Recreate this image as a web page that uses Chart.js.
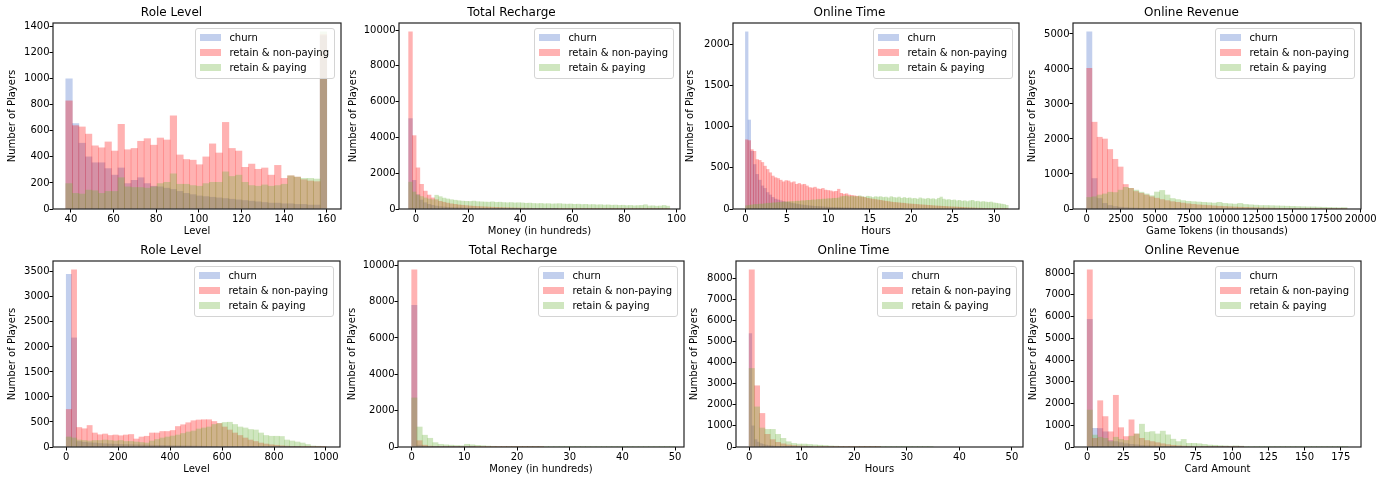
<!DOCTYPE html>
<html>
<head>
<meta charset="utf-8">
<script src="https://cdn.jsdelivr.net/npm/chart.js@4.4.1/dist/chart.umd.min.js"></script>
<style>
  body { margin: 0; background: #fff; width: 1393px; height: 481px; position: relative; overflow: hidden; }
  canvas { position: absolute; }
  .legend { position: absolute; border: 1px solid #d4d4d4; border-radius: 3px; background: rgba(255,255,255,0.8);
            padding: 1px 5px 3px 4px; font: 10px 'DejaVu Sans', sans-serif; color: #000; }
  .legend div { display: flex; align-items: center; height: 15px; white-space: nowrap; }
  .legend .swatch { display: inline-block; width: 21px; height: 7px; margin-right: 8px; }
</style>
</head>
<body>
<script>
// colours of the three player groups
var churnColor = 'rgba(70, 110, 200, 0.33)';
var nonPayColor = 'rgba(255, 0, 0, 0.3)';
var payColor = 'rgba(110, 180, 60, 0.33)';
var seriesNames = ['churn', 'retain & non-paying', 'retain & paying'];

// ---- top row ----
// Role Level (bins of 3.06 from 37.6)
var roleTopChurn = [1000, 655, 505, 400, 355, 355, 310, 260, 315, 195, 220, 240, 195, 175,
    170, 160, 150, 135, 120, 110, 100, 95, 90, 85, 80, 75, 70, 65, 60, 55, 50, 45, 45, 40, 40, 35, 35, 30, 30, 1330];
var roleTopNonPay = [830, 640, 630, 575, 485, 470, 515, 445, 650, 455, 465, 520, 540, 490, 545, 530, 715, 415, 380, 375,
    340, 400, 500, 430, 665, 465, 445, 320, 345, 305, 315, 260, 335, 235, 255, 245, 225, 215, 210, 1340];
var roleTopPay = [195, 120, 115, 145, 140, 120, 135, 135, 240, 170, 165, 165, 160, 170, 195, 205, 270, 190, 190, 180,
    175, 195, 205, 205, 285, 250, 260, 205, 180, 175, 185, 175, 180, 190, 255, 245, 235, 235, 230, 1360];

// Total Recharge (bins of 1.431 from -2.8)
var rechargeTopChurn = [5050, 1600, 800, 500, 350, 260, 200, 160, 130, 110, 95, 85, 75, 65, 58, 52, 46, 42, 38, 34,
    30, 27, 24, 22, 20, 18, 16, 14, 13, 12, 11, 10, 9, 8, 7, 7, 6, 6, 5, 5];
var rechargeTopNonPay = [9900, 4100, 2300, 1380, 1000, 780, 620, 520, 430, 380, 330, 290, 260, 230, 210, 190, 170, 155, 140, 130,
    120, 110, 100, 92, 85, 78, 72, 66, 60, 55, 50, 46, 42, 38, 35, 32, 29, 26, 24, 22,
    20, 18, 16, 15, 14, 13, 12, 11, 10, 9, 8, 8, 7, 7, 6, 6, 5, 5, 4, 4, 4, 3, 3, 3, 2, 2, 2, 2, 1, 1];
var rechargeTopPay = [1500, 950, 780, 700, 620, 560, 520, 770, 690, 610, 560, 520, 490, 460, 440, 430, 420, 440, 410, 400,
    390, 380, 400, 370, 380, 360, 350, 360, 340, 350, 340, 320, 330, 310, 300, 310, 290, 300, 280, 290,
    300, 280, 270, 280, 260, 270, 250, 260, 240, 250, 230, 240, 220, 230, 210, 220, 200, 210, 190, 200,
    180, 190, 200, 240, 170, 180, 160, 170, 200, 160];

// Online Time (bins of 0.317 h from 0)
var timeTopChurn = [2150, 1080, 700, 540, 420, 350, 280, 250, 200, 170, 140, 120, 110, 100, 90, 85, 80, 72, 66, 60,
    55, 50, 46, 42, 38, 35, 32, 30, 28, 26, 24, 22, 20, 19, 18, 17, 16, 15, 14, 13,
    12, 11, 10, 10, 9, 9, 8, 8, 7, 7, 6, 6, 5, 5, 4, 4, 3, 3, 2, 2];
var timeTopNonPay = [840, 830, 720, 700, 600, 590, 565, 520, 480, 440, 400, 380, 370, 350, 330, 345, 340, 320, 330, 300,
    310, 295, 300, 280, 260, 255, 265, 245, 240, 250, 230, 225, 220, 210, 215, 240, 190, 180, 185, 170,
    165, 160, 155, 150, 145, 140, 130, 125, 120, 115, 110, 105, 100, 95, 90, 85, 80, 78, 75, 72,
    70, 65, 62, 60, 58, 55, 52, 50, 48, 45, 43, 40, 38, 36, 34, 32, 30, 28, 26, 25,
    24, 22, 20, 18, 16, 15, 14, 12, 11, 10, 9, 8, 7, 6, 5, 4, 3, 2, 1, 1];
var timeTopPay = [40, 45, 50, 55, 55, 60, 60, 65, 70, 70, 75, 75, 80, 80, 85, 85, 90, 90, 90, 95,
    95, 100, 100, 105, 105, 110, 110, 115, 115, 120, 120, 125, 125, 130, 130, 135, 150, 155, 160, 150,
    155, 150, 150, 160, 150, 145, 155, 150, 140, 150, 145, 150, 140, 145, 135, 150, 140, 135, 145, 130,
    140, 130, 135, 125, 130, 120, 135, 125, 120, 130, 120, 125, 115, 130, 145, 120, 110, 115, 105, 110,
    100, 105, 95, 100, 90, 100, 105, 90, 95, 85, 90, 85, 80, 85, 75, 70, 65, 60, 55, 45];

// Online Revenue, game tokens (bins of 380 from 0)
var revenueTopChurn = [5060, 870, 300, 160, 100, 70, 50, 40, 30, 25, 20, 16, 13, 10, 8, 7, 6, 5, 4, 3];
var revenueTopNonPay = [4020, 2480, 2050, 2000, 1700, 1420, 1200, 700, 590, 500, 450, 400, 350, 310, 270, 240, 210, 190, 170, 150,
    135, 120, 110, 100, 90, 80, 72, 65, 58, 52, 46, 41, 37, 33, 29, 26, 23, 20, 18, 16,
    14, 12, 10, 9, 8, 7, 6, 5, 4, 3];
var revenueTopPay = [330, 350, 400, 430, 480, 470, 540, 620, 590, 540, 480, 430, 380, 485, 530, 400, 300, 270, 240, 220,
    210, 200, 190, 180, 170, 190, 160, 150, 140, 160, 130, 120, 110, 100, 100, 95, 90, 85, 80, 75,
    70, 65, 60, 60, 55, 50, 45, 40, 35, 40];

// ---- bottom row ----
// Role Level (bins of 20 from 0)
var roleBotChurn = [3450, 2180, 110, 95, 85, 80, 70, 65, 60, 55, 50, 48, 45, 42, 40, 38, 36, 34, 32, 30,
    28, 26, 24, 22, 20, 18, 16, 14, 12, 10, 9, 8, 7, 6, 5, 4, 3, 3, 2, 2, 1, 1, 1, 1, 1];
var roleBotNonPay = [750, 3540, 390, 365, 430, 280, 245, 260, 230, 240, 225, 240, 250, 160, 200, 215, 280, 280, 310, 310,
    330, 410, 445, 485, 525, 540, 545, 545, 510, 470, 400, 340, 280, 230, 180, 140, 110, 80, 60, 45,
    35, 25, 18, 12, 8, 5, 3, 2, 1, 1];
var roleBotPay = [200, 180, 140, 130, 120, 130, 130, 140, 130, 120, 130, 110, 110, 100, 90, 80, 120, 150, 180, 200,
    220, 240, 270, 300, 320, 360, 380, 400, 450, 470, 490, 495, 450, 400, 380, 350, 340, 280, 230, 215,
    215, 210, 140, 120, 100, 80, 50, 20, 15, 10];

// Total Recharge (bins of 1 from 0)
var rechargeBotChurn = [7800, 100, 40, 20, 10, 6, 4, 3, 2, 2, 1, 1];
var rechargeBotNonPay = [9750, 350, 100, 50, 30, 20, 15, 12, 10, 8, 7, 6, 5, 4, 3, 3, 2, 2, 2, 1, 1, 1, 1, 1, 1];
var rechargeBotPay = [2700, 1100, 650, 480, 240, 150, 120, 100, 80, 70, 150, 120, 90, 70, 50, 40, 30, 25, 20, 15,
    12, 10, 8, 6, 5, 4, 3, 3, 2, 2, 2, 1, 1, 1, 1, 1, 1, 1, 1, 1, 1, 1, 1, 1, 1, 1, 1, 1, 1, 1];

// Online Time (churn bins of 0.5 h, others 1 h, from 0)
var timeBotChurn = [5370, 1000, 350, 230, 160, 120, 90, 70, 55, 45, 35, 28, 22, 18, 14, 11, 9, 7, 5, 4, 3, 2, 2, 1];
var timeBotNonPay = [8390, 2900, 1590, 600, 350, 220, 150, 100, 70, 50, 40, 30, 22, 16, 12, 9, 7, 5, 4, 3, 2, 2, 1, 1, 1];
var timeBotPay = [3720, 1900, 900, 835, 835, 600, 410, 250, 170, 140, 140, 120, 100, 85, 70, 50, 40, 32, 25, 20,
    16, 12, 10, 8, 6, 5, 4, 3, 2, 2, 1, 1, 1, 1, 1];

// Online Revenue, card amount (bins of 3.6 from 0)
var cardBotChurn = [5870, 860, 850, 700, 300, 250, 200, 150, 120, 100, 80, 60, 50, 40, 30, 25, 20, 15, 12, 10,
    8, 6, 5, 4, 3, 2, 2, 1, 1, 1];
var cardBotNonPay = [8150, 400, 2130, 1400, 700, 2380, 890, 480, 1250, 600, 400, 300, 250, 200, 150, 110, 80, 60, 45, 35,
    25, 18, 12, 8, 6, 4, 3, 2, 2, 1];
var cardBotPay = [1700, 550, 450, 400, 250, 450, 350, 300, 500, 600, 1050, 680, 710, 600, 730, 560, 360, 250, 350, 170,
    170, 150, 120, 90, 80, 60, 50, 40, 50, 40, 30, 20, 12, 10, 8, 6, 5, 4, 3, 3,
    2, 2, 2, 1, 1, 1, 1, 1, 1, 1];

// tick labels
var roleTopXTicks = [40, 60, 80, 100, 120, 140, 160];
var roleTopYTicks = [0, 200, 400, 600, 800, 1000, 1200, 1400];
var rechargeTopXTicks = [0, 20, 40, 60, 80, 100];
var rechargeYTicks = [0, 2000, 4000, 6000, 8000, 10000];
var timeTopXTicks = [0, 5, 10, 15, 20, 25, 30];
var timeTopYTicks = [0, 500, 1000, 1500, 2000];
var revenueTopXTicks = [0, 2500, 5000, 7500, 10000, 12500, 15000, 17500, 20000];
var revenueTopYTicks = [0, 1000, 2000, 3000, 4000, 5000];
var roleBotXTicks = [0, 200, 400, 600, 800, 1000];
var roleBotYTicks = [0, 500, 1000, 1500, 2000, 2500, 3000, 3500];
var fiftyXTicks = [0, 10, 20, 30, 40, 50];
var thousandsYTicks = [0, 1000, 2000, 3000, 4000, 5000, 6000, 7000, 8000];
var cardXTicks = [0, 25, 50, 75, 100, 125, 150, 175];

// panel layout: plot area in page pixels [left, top, right, bottom], x of the y title
var panels = [
    { title: 'Role Level', xLabel: 'Level', area: [53, 23, 341, 209], yTitleX: 12, xMin: 31.6, xMax: 166.7,
      xTicks: roleTopXTicks, yTicks: roleTopYTicks, lo: 37.6, w: 3.06, series: [roleTopChurn, roleTopNonPay, roleTopPay] },
    { title: 'Total Recharge', xLabel: 'Money (in hundreds)', area: [399, 23, 680, 209], yTitleX: 353, xMin: -6.5, xMax: 101.3,
      xTicks: rechargeTopXTicks, yTicks: rechargeYTicks, lo: -2.8, w: 1.431, series: [rechargeTopChurn, rechargeTopNonPay, rechargeTopPay] },
    { title: 'Online Time', xLabel: 'Hours', area: [733, 23, 1019, 209], yTitleX: 690, xMin: -1.5, xMax: 33.0,
      xTicks: timeTopXTicks, yTicks: timeTopYTicks, lo: 0, w: 0.317, series: [timeTopChurn, timeTopNonPay, timeTopPay] },
    { title: 'Online Revenue', xLabel: 'Game Tokens (in thousands)', area: [1073, 23, 1361, 209], yTitleX: 1032, xMin: -1000, xMax: 20020,
      xTicks: revenueTopXTicks, yTicks: revenueTopYTicks, lo: 0, w: 380, series: [revenueTopChurn, revenueTopNonPay, revenueTopPay] },
    { title: 'Role Level', xLabel: 'Level', area: [53, 261, 340, 447], yTitleX: 12, xMin: -51, xMax: 1054,
      xTicks: roleBotXTicks, yTicks: roleBotYTicks, lo: 0, w: 20, series: [roleBotChurn, roleBotNonPay, roleBotPay] },
    { title: 'Total Recharge', xLabel: 'Money (in hundreds)', area: [398, 261, 684, 447], yTitleX: 352, xMin: -2.6, xMax: 51.7,
      xTicks: fiftyXTicks, yTicks: rechargeYTicks, lo: 0, w: 1, series: [rechargeBotChurn, rechargeBotNonPay, rechargeBotPay] },
    { title: 'Online Time', xLabel: 'Hours', area: [736, 261, 1023, 447], yTitleX: 694, xMin: -2.5, xMax: 52.1,
      xTicks: fiftyXTicks, yTicks: thousandsYTicks, lo: 0, w: 1, churnW: 0.5, series: [timeBotChurn, timeBotNonPay, timeBotPay] },
    { title: 'Online Revenue', xLabel: 'Card Amount', area: [1074, 261, 1361, 447], yTitleX: 1033, xMin: -9.1, xMax: 189,
      xTicks: cardXTicks, yTicks: thousandsYTicks, lo: 0, w: 3.6, series: [cardBotChurn, cardBotNonPay, cardBotPay] }
];

var seriesColors = [churnColor, nonPayColor, payColor];
var TITLE_H = 23, XAXIS_H = 30, RIGHT_PAD = 18;

Chart.defaults.font.family = "'DejaVu Sans', sans-serif";
Chart.defaults.font.size = 10;
Chart.defaults.color = '#000';

// box round the plot area, drawn over the bars
var framePlugin = {
    id: 'frame',
    afterDatasetsDraw: function (chart) {
        var a = chart.chartArea;
        var ctx = chart.ctx;
        ctx.save();
        ctx.strokeStyle = '#222';
        ctx.lineWidth = 1.2;
        ctx.strokeRect(a.left, a.top, a.right - a.left, a.bottom - a.top);
        ctx.restore();
    }
};

// histogram bins -> bar points at bin centres
function binPoints(counts, lo, width) {
    return counts.map(function (c, i) {
        return { x: lo + (i + 0.5) * width, y: c };
    });
}

function addLegend(chart, canvasLeft, canvasTop) {
    var a = chart.chartArea;
    var box = document.createElement('div');
    box.className = 'legend';
    chart.data.datasets.forEach(function (ds) {
        var row = document.createElement('div');
        var sw = document.createElement('span');
        sw.className = 'swatch';
        sw.style.background = ds.backgroundColor;
        var tx = document.createElement('span');
        tx.textContent = ds.label;
        row.appendChild(sw);
        row.appendChild(tx);
        box.appendChild(row);
    });
    box.style.right = (1393 - (canvasLeft + a.right - 6)) + 'px';
    box.style.top = (canvasTop + a.top + 5) + 'px';
    document.body.appendChild(box);
}

function drawPanel(p) {
    var canvasLeft = p.yTitleX - 10;
    var yAxisW = p.area[0] - canvasLeft;
    var canvasTop = p.area[1] - TITLE_H;
    var cv = document.createElement('canvas');
    cv.width = yAxisW + (p.area[2] - p.area[0]) + RIGHT_PAD;
    cv.height = TITLE_H + (p.area[3] - p.area[1]) + XAXIS_H;
    cv.style.left = canvasLeft + 'px';
    cv.style.top = canvasTop + 'px';
    document.body.appendChild(cv);

    var all = p.series[0].concat(p.series[1], p.series[2]);
    var yMax = Math.max.apply(null, all) * 1.05;
    var axisIds = ['xChurn', 'xNonPay', 'x'];

    var datasets = p.series.map(function (counts, k) {
        var width = (k === 0 && p.churnW) ? p.churnW : p.w;
        return {
            label: seriesNames[k],
            data: binPoints(counts, p.lo, width),
            backgroundColor: seriesColors[k],
            borderWidth: 0,
            grouped: false,
            barPercentage: 1,
            categoryPercentage: 1,
            xAxisID: axisIds[k],
            order: 3 - k
        };
    });

    var hiddenX = function () {
        return { type: 'linear', display: false, min: p.xMin, max: p.xMax, offset: false, grid: { offset: false } };
    };

    var chart = new Chart(cv, {
        type: 'bar',
        data: { datasets: datasets },
        plugins: [framePlugin],
        options: {
            responsive: false,
            animation: false,
            events: [],
            grouped: false,
            barPercentage: 1,
            categoryPercentage: 1,
            layout: { padding: { left: 0, top: 0, right: RIGHT_PAD, bottom: 0 } },
            plugins: {
                legend: { display: false },
                tooltip: { enabled: false },
                title: {
                    display: true,
                    text: p.title,
                    color: '#000',
                    font: { size: 12, weight: 'normal', lineHeight: 1.2 },
                    padding: { top: 6, bottom: 2.6 }
                }
            },
            scales: {
                xChurn: hiddenX(),
                xNonPay: hiddenX(),
                x: {
                    type: 'linear',
                    min: p.xMin,
                    max: p.xMax,
                    offset: false,
                    afterBuildTicks: function (s) {
                        s.ticks = p.xTicks.map(function (v) { return { value: v }; });
                    },
                    afterFit: function (s) { s.height = XAXIS_H; },
                    ticks: { maxRotation: 0, autoSkip: false, padding: 1, callback: function (v) { return String(v); } },
                    grid: { offset: false, drawOnChartArea: false, drawTicks: true, tickLength: 3.5, color: '#000' },
                    border: { display: false },
                    title: { display: true, text: p.xLabel, padding: { top: 0, bottom: 2 } }
                },
                y: {
                    type: 'linear',
                    min: 0,
                    max: yMax,
                    afterBuildTicks: function (s) {
                        s.ticks = p.yTicks.map(function (v) { return { value: v }; });
                    },
                    afterFit: function (s) { s.width = yAxisW; },
                    ticks: { padding: 0, callback: function (v) { return String(v); } },
                    grid: { drawOnChartArea: false, drawTicks: true, tickLength: 3.5, color: '#000' },
                    border: { display: false },
                    title: { display: true, text: 'Number of Players', padding: { top: 4, bottom: 0 } }
                }
            }
        }
    });
    addLegend(chart, canvasLeft, canvasTop);
}

panels.forEach(drawPanel);
</script>
</body>
</html>
